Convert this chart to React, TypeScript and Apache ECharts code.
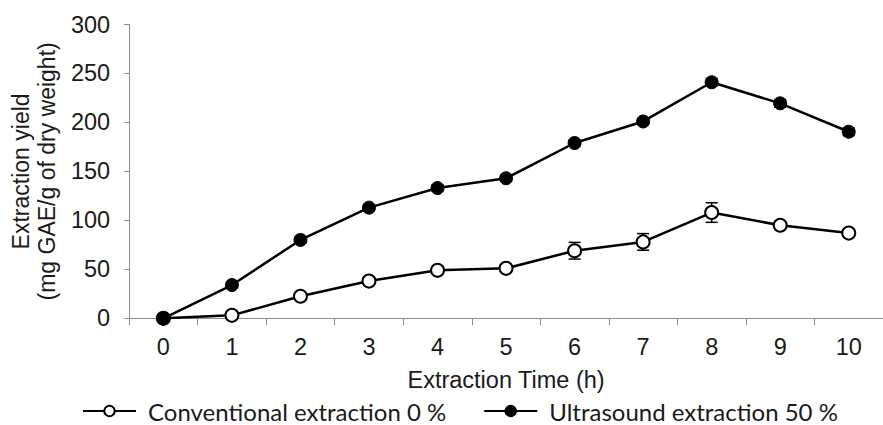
import React, { useEffect, useRef } from "react";
import * as echarts from "echarts";

const categories = ["0", "1", "2", "3", "4", "5", "6", "7", "8", "9", "10"];
const conventional = [0, 3, 22.5, 38, 49, 51, 69, 78, 108, 95, 87];
const conventionalErr = [0, 1, 2, 2, 2, 2, 8.5, 8.5, 10, 3, 3];
const ultrasound = [0, 34, 80, 113, 133, 143, 179, 201, 241, 219.5, 190.5];
const ultrasoundErr = [0, 2, 3, 3, 3, 3, 3, 3, 4, 4, 4];
const yTicks = { min: 0, max: 300, interval: 50 };
const seriesNames = ["Conventional extraction 0 %", "Ultrasound extraction 50 %"];
const xTitle = "Extraction Time (h)";
const yTitle = "Extraction yield\n(mg GAE/g of dry weight)";

const AXIS_FONT = "'Liberation Sans', Arial, sans-serif";

function errData(vals: number[], errs: number[]) {
  return vals.map((v, i) => [i, v - errs[i], v + errs[i]]);
}

function errorBarSeries(vals: number[], errs: number[]) {
  return {
    type: "custom",
    z: 1,
    silent: true,
    data: errData(vals, errs),
    renderItem: (params: any, api: any) => {
      const x = api.value(0);
      const lo = api.coord([x, api.value(1)]);
      const hi = api.coord([x, api.value(2)]);
      const hw = 6;
      const style = { stroke: "#000", lineWidth: 1.5 };
      return {
        type: "group",
        children: [
          { type: "line", shape: { x1: lo[0], y1: lo[1], x2: hi[0], y2: hi[1] }, style },
          { type: "line", shape: { x1: lo[0] - hw, y1: lo[1], x2: lo[0] + hw, y2: lo[1] }, style },
          { type: "line", shape: { x1: hi[0] - hw, y1: hi[1], x2: hi[0] + hw, y2: hi[1] }, style },
        ],
      };
    },
  };
}

export default function App() {
  const ref = useRef<HTMLDivElement>(null);
  useEffect(() => {
    if (!ref.current) return;
    const chart = echarts.init(ref.current, undefined, { renderer: "svg" });
    chart.setOption({
      animation: false,
      backgroundColor: "#fff",
      grid: { left: 128, right: -5, top: 24.5, bottom: 106.7, containLabel: false },
      legend: {
        left: 82,
        top: 399,
        padding: 0,
        itemWidth: 53,
        itemHeight: 13,
        itemGap: 37,
        textStyle: {
          fontFamily: "Lato, 'Open Sans', sans-serif",
          fontSize: 24,
          lineHeight: 18,
          color: "#1a1a1a",
          padding: [0, 0, 0, 7],
        },
        data: seriesNames,
      },
      xAxis: {
        type: "category",
        data: categories,
        boundaryGap: true,
        name: xTitle,
        nameLocation: "middle",
        nameGap: 50,
        nameTextStyle: { fontFamily: AXIS_FONT, fontSize: 23.5, color: "#1a1a1a" },
        axisLine: { lineStyle: { color: "#8c8c8c", width: 1 } },
        axisTick: { show: true, length: 7, alignWithLabel: false, lineStyle: { color: "#8c8c8c" } },
        axisLabel: { fontFamily: AXIS_FONT, fontSize: 23.5, color: "#1a1a1a", margin: 17 },
        splitLine: { show: false },
      },
      yAxis: {
        type: "value",
        min: yTicks.min,
        max: yTicks.max,
        interval: yTicks.interval,
        name: yTitle,
        nameLocation: "middle",
        nameRotate: 90,
        nameGap: 67,
        nameTextStyle: { fontFamily: AXIS_FONT, fontSize: 23, color: "#1a1a1a", lineHeight: 26 },
        axisLine: { show: true, lineStyle: { color: "#8c8c8c", width: 1 } },
        axisTick: { show: true, length: 5, lineStyle: { color: "#8c8c8c" } },
        axisLabel: { fontFamily: AXIS_FONT, fontSize: 23.5, color: "#1a1a1a", margin: 19 },
        splitLine: { show: false },
      },
      series: [
        errorBarSeries(conventional, conventionalErr),
        errorBarSeries(ultrasound, ultrasoundErr),
        {
          name: seriesNames[0],
          type: "line",
          z: 3,
          data: conventional,
          symbol: "circle",
          symbolSize: 13,
          lineStyle: { color: "#000", width: 2.5 },
          itemStyle: { color: "#fff", borderColor: "#000", borderWidth: 2 },
        },
        {
          name: seriesNames[1],
          type: "line",
          z: 4,
          data: ultrasound,
          symbol: "circle",
          symbolSize: 13,
          lineStyle: { color: "#000", width: 2.5 },
          itemStyle: { color: "#000", borderColor: "#000", borderWidth: 1 },
        },
      ],
    });
    return () => chart.dispose();
  }, []);
  return (
    <div
      ref={ref}
      style={{ position: "fixed", left: 0, top: 0, width: 883, height: 425 }}
    />
  );
}
